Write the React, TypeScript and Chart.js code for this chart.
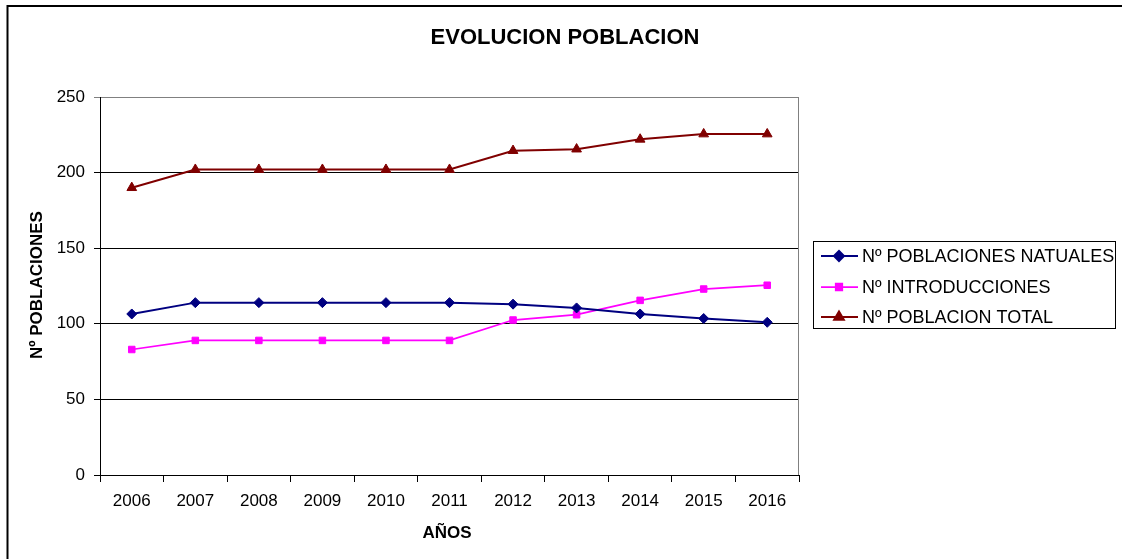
import React, { useEffect, useRef } from 'react';
import { Chart, registerables } from 'chart.js';
import { drawPoint } from 'chart.js/helpers';

Chart.register(...registerables);

const years = ['2006', '2007', '2008', '2009', '2010', '2011', '2012', '2013', '2014', '2015', '2016'];
const naturales = [106.5, 114, 114, 114, 114, 114, 113, 110.5, 106.5, 103.5, 101];
const introducciones = [83, 89, 89, 89, 89, 89, 102.5, 106, 115.5, 123, 125.5];
const total = [190, 202, 202, 202, 202, 202, 214.5, 215.5, 222, 225.5, 225.5];
const yTicks = [0, 50, 100, 150, 200, 250];
const seriesLabels = ['Nº POBLACIONES NATUALES', 'Nº INTRODUCCIONES', 'Nº POBLACION TOTAL'];
const chartTitle = 'EVOLUCION POBLACION';
const xTitle = 'AÑOS';
const yTitle = 'Nº POBLACIONES';

const FONT = '"Liberation Sans", Arial, sans-serif';

const decorPlugin = {
  id: 'decor',
  beforeDraw(chart: any) {
    const ctx = chart.ctx;
    ctx.save();
    ctx.fillStyle = '#ffffff';
    ctx.fillRect(0, 0, chart.width, chart.height);
    ctx.restore();
  },
  afterDraw(chart: any) {
    const ctx = chart.ctx;
    const area = chart.chartArea;
    ctx.save();
    // outer border (left + top visible)
    ctx.strokeStyle = '#000';
    ctx.lineWidth = 2;
    ctx.strokeRect(7.5, 6, chart.width + 20, chart.height + 20);
    // right edge of plot area
    ctx.strokeStyle = '#808080';
    ctx.lineWidth = 1;
    ctx.beginPath();
    ctx.moveTo(Math.round(area.right) - 0.5, area.top);
    ctx.lineTo(Math.round(area.right) - 0.5, area.bottom);
    ctx.stroke();
    // title
    ctx.fillStyle = '#000';
    ctx.textAlign = 'center';
    ctx.textBaseline = 'middle';
    ctx.font = `bold 22px ${FONT}`;
    ctx.fillText(chartTitle, 565, 38);
    // x title
    ctx.font = `bold 17px ${FONT}`;
    ctx.fillText(xTitle, 447, 533);
    // y title
    ctx.save();
    ctx.translate(37, 285);
    ctx.rotate(-Math.PI / 2);
    ctx.fillText(yTitle, 0, 0);
    ctx.restore();
    // legend
    const bx = 813.5, by = 241.5, bw = 302, bh = 87;
    ctx.strokeStyle = '#000';
    ctx.lineWidth = 1;
    ctx.strokeRect(bx, by, bw, bh);
    const rows = [256, 287, 317];
    ctx.font = `18px ${FONT}`;
    ctx.textAlign = 'left';
    chart.data.datasets.forEach((ds: any, i: number) => {
      const y = rows[i];
      ctx.strokeStyle = ds.borderColor;
      ctx.lineWidth = ds.borderWidth;
      ctx.beginPath();
      ctx.moveTo(821, y);
      ctx.lineTo(858, y);
      ctx.stroke();
      ctx.fillStyle = ds.pointBackgroundColor;
      ctx.strokeStyle = ds.pointBorderColor;
      drawPoint(ctx, { pointStyle: ds.pointStyle, rotation: 0, radius: ds.pointRadius, borderWidth: 1 }, 839, y);
      ctx.fillStyle = '#000';
      ctx.fillText(ds.label, 862, y + 1);
    });
    ctx.restore();
  },
};

export default function App() {
  const ref = useRef<HTMLCanvasElement>(null);
  useEffect(() => {
    document.body.style.margin = '0';
    const chart = new Chart(ref.current!, {
      type: 'line',
      data: {
        labels: years,
        datasets: [
          {
            label: seriesLabels[0],
            data: naturales,
            borderColor: '#000080',
            backgroundColor: '#000080',
            pointBackgroundColor: '#000080',
            pointBorderColor: '#000080',
            borderWidth: 2,
            pointStyle: 'rectRot',
            pointRadius: 5,
            pointBorderWidth: 1,
            tension: 0,
          },
          {
            label: seriesLabels[1],
            data: introducciones,
            borderColor: '#FF00FF',
            backgroundColor: '#FF00FF',
            pointBackgroundColor: '#FF00FF',
            pointBorderColor: '#FF00FF',
            borderWidth: 1.75,
            pointStyle: 'rect',
            pointRadius: 4.6,
            pointBorderWidth: 1,
            tension: 0,
          },
          {
            label: seriesLabels[2],
            data: total,
            borderColor: '#800000',
            backgroundColor: '#800000',
            pointBackgroundColor: '#800000',
            pointBorderColor: '#800000',
            borderWidth: 2,
            pointStyle: 'triangle',
            pointRadius: 5.6,
            pointBorderWidth: 1,
            tension: 0,
          },
        ],
      },
      options: {
        responsive: false,
        devicePixelRatio: 1,
        animation: false,
        layout: { padding: { top: 97, right: 323, bottom: 0, left: 0 } },
        plugins: {
          legend: { display: false },
          title: { display: false },
          tooltip: { enabled: false },
        },
        scales: {
          x: {
            type: 'category',
            offset: true,
            afterFit: (s: any) => { s.height = 84; },
            grid: { offset: true, drawOnChartArea: false, drawTicks: true, tickLength: 7, color: '#000' },
            border: { display: true, color: '#000', width: 1 },
            ticks: { color: '#000', font: { family: FONT, size: 17 }, padding: 9, maxRotation: 0, autoSkip: false },
          },
          y: {
            min: 0,
            max: 250,
            afterFit: (s: any) => { s.width = 100; },
            afterBuildTicks: (s: any) => { s.ticks = yTicks.map((v) => ({ value: v })); },
            grid: {
              color: (c: any) => (c.tick && c.tick.value === 250 ? '#808080' : '#000'),
              tickLength: 6,
              lineWidth: 1,
            },
            border: { display: true, color: '#000', width: 1 },
            ticks: { color: '#000', font: { family: FONT, size: 17 }, padding: 9 },
          },
        },
      },
      plugins: [decorPlugin],
    } as any);
    return () => chart.destroy();
  }, []);
  return (
    <div style={{ width: 1122, height: 559 }}>
      <canvas ref={ref} width={1122} height={559} style={{ display: 'block' }} />
    </div>
  );
}
